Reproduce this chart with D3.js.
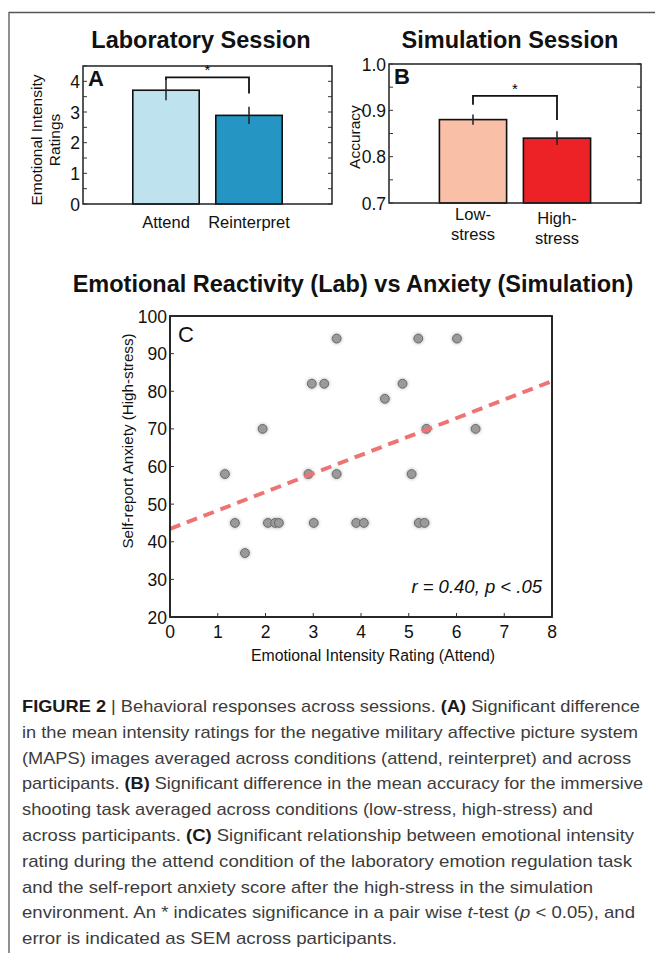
<!DOCTYPE html>
<html>
<head>
<meta charset="utf-8">
<script src="https://cdn.jsdelivr.net/npm/d3@7"></script>
<style>
  html, body { margin: 0; padding: 0; background: #fff; }
  svg { display: block; font-family: "Liberation Sans", Arial, Helvetica, sans-serif; }
</style>
</head>
<body>
<div class="figureBox"></div>
<script>
// ---- data ----
var labCategories = ["Attend", "Reinterpret"];
var labMeans = [3.71, 2.89];
var labSem = [0.33, 0.28];
var labTicks = [0, 1, 2, 3, 4];
var labBracket = [4.13, 4.04, 3.6]; // bar height, left leg end, right leg end

var simCategories = ["Low-stress", "High-stress"];
var simLabels = [["Low-", "stress"], ["High-", "stress"]];
var simMeans = [0.88, 0.84];
var simSem = [0.011, 0.015];
var simTicks = [0.7, 0.8, 0.9, 1.0];
var simBracket = [0.931, 0.912, 0.879];

var attendRating = [1.15, 1.94, 2.90, 2.97, 3.23, 3.49, 3.49, 4.50, 4.87, 5.06, 5.20, 5.37, 6.01, 6.40,
                    1.36, 1.57, 2.05, 2.20, 2.28, 3.01, 3.90, 4.06, 5.21, 5.33];
var anxietyScore = [58, 70, 58, 82, 82, 94, 58, 78, 82, 58, 94, 70, 94, 70,
                    45, 37, 45, 45, 45, 45, 45, 45, 45, 45];
var fitX = [0, 8];
var fitY = [43.4, 82.7];
var scatterXTicks = [0, 1, 2, 3, 4, 5, 6, 7, 8];
var scatterYTicks = [20, 30, 40, 50, 60, 70, 80, 90, 100];

var labColors = ["#bee2ee", "#2595c4"];
var simColors = ["#f9bfa7", "#ed2227"];

// caption lines: [text, style] pieces
var captionLines = [
  [["FIGURE 2", "b"], ["  |  Behavioral responses across sessions. ", ""], ["(A)", "b"], [" Significant difference", ""]],
  [["in the mean intensity ratings for the negative military affective picture system", ""]],
  [["(MAPS) images averaged across conditions (attend, reinterpret) and across", ""]],
  [["participants. ", ""], ["(B)", "b"], [" Significant difference in the mean accuracy for the immersive", ""]],
  [["shooting task averaged across conditions (low-stress, high-stress) and", ""]],
  [["across participants. ", ""], ["(C)", "b"], [" Significant relationship between emotional intensity", ""]],
  [["rating during the attend condition of the laboratory emotion regulation task", ""]],
  [["and the self-report anxiety score after the high-stress in the simulation", ""]],
  [["environment. An * indicates significance in a pair wise ", ""], ["t", "i"], ["-test (", ""], ["p", "i"], [" < 0.05), and", ""]],
  [["error is indicated as SEM across participants.", ""]]
];
var captionEnds = [640, 638, 631, 643, 593, 634, 632, 593, 635, 397];

var W = 655, H = 953;
var svg = d3.select(".figureBox").append("svg")
  .attr("width", W)
  .attr("height", H);

// frame
svg.append("path")
  .attr("d", "M9," + H + "V12.5H" + W)
  .attr("fill", "none")
  .attr("stroke", "#555")
  .attr("stroke-width", 1.3);

/**
* Bar chart with SEM error bars and a significance bracket
**/
var drawBars = function(opt){
  var g = svg.append("g");
  var x = d3.scaleBand().domain(opt.cats).range([opt.left, opt.right])
    .paddingInner(0.2).paddingOuter(0.6);
  var y = d3.scaleLinear().domain(opt.domain).range([opt.bottom, opt.top]);

  g.append("text")
    .attr("x", opt.titleX).attr("y", 48)
    .attr("text-anchor", "middle")
    .attr("font-weight", "bold").attr("font-size", 23.5)
    .attr("fill", "#111")
    .text(opt.title);

  // bars
  g.selectAll(".bar").data(opt.means).enter().append("rect")
    .attr("x", function(d, i){ return x(opt.cats[i]); })
    .attr("y", function(d){ return y(d); })
    .attr("width", x.bandwidth())
    .attr("height", function(d){ return y(opt.domain[0]) - y(d); })
    .attr("fill", function(d, i){ return opt.colors[i]; })
    .attr("stroke", "#111").attr("stroke-width", 1.6);

  // error bars
  g.selectAll(".err").data(opt.means).enter().append("line")
    .attr("x1", function(d, i){ return x(opt.cats[i]) + x.bandwidth() / 2; })
    .attr("x2", function(d, i){ return x(opt.cats[i]) + x.bandwidth() / 2; })
    .attr("y1", function(d, i){ return y(d + opt.sem[i]); })
    .attr("y2", function(d, i){ return y(d - opt.sem[i]); })
    .attr("stroke", "#222").attr("stroke-width", 1.5);

  // significance bracket
  var cx0 = x(opt.cats[0]) + x.bandwidth() / 2, cx1 = x(opt.cats[1]) + x.bandwidth() / 2;
  g.append("path")
    .attr("d", "M" + cx0 + "," + y(opt.bracket[1]) + "V" + y(opt.bracket[0]) +
               "H" + cx1 + "V" + y(opt.bracket[2]))
    .attr("fill", "none").attr("stroke", "#111").attr("stroke-width", 1.8);
  g.append("text")
    .attr("x", (cx0 + cx1) / 2).attr("y", y(opt.bracket[0]) + 4 - 6)
    .attr("text-anchor", "middle").attr("font-size", 15)
    .text("*");

  // axis box
  g.append("rect")
    .attr("x", opt.left).attr("y", opt.top)
    .attr("width", opt.right - opt.left).attr("height", opt.bottom - opt.top)
    .attr("fill", "none").attr("stroke", "#222").attr("stroke-width", 1.5);

  // inward ticks on both sides
  var minor = d3.range(opt.domain[0], opt.domain[1] + 1e-9, opt.minorStep);
  g.selectAll(".tl").data(minor).enter().append("line")
    .attr("x1", opt.left).attr("x2", opt.left + 4)
    .attr("y1", function(d){ return y(d); }).attr("y2", function(d){ return y(d); })
    .attr("stroke", "#333");
  g.selectAll(".tr").data(minor).enter().append("line")
    .attr("x1", opt.right).attr("x2", opt.right - 4)
    .attr("y1", function(d){ return y(d); }).attr("y2", function(d){ return y(d); })
    .attr("stroke", "#333");

  g.selectAll(".tick").data(opt.ticks).enter().append("text")
    .attr("x", opt.left - 3).attr("y", function(d){ return y(d) + 6.5; })
    .attr("text-anchor", "end").attr("font-size", 17.5).attr("fill", "#111")
    .text(function(d){ return opt.fmt(d); });

  // panel letter
  g.append("text")
    .attr("x", opt.left + 5).attr("y", opt.top + 20)
    .attr("font-weight", "bold").attr("font-size", 22).attr("fill", "#111")
    .text(opt.letter);

  // category labels
  opt.labels.forEach(function(lines, i){
    var t = g.append("text")
      .attr("x", x(opt.cats[i]) + x.bandwidth() / 2)
      .attr("y", opt.labelY + i * opt.labelShift)
      .attr("text-anchor", "middle").attr("font-size", 16.5).attr("fill", "#111");
    lines.forEach(function(l, k){
      t.append("tspan").attr("x", x(opt.cats[i]) + x.bandwidth() / 2)
        .attr("dy", k === 0 ? 0 : 20).text(l);
    });
  });

  // y label
  var yl = g.append("text")
    .attr("transform", "translate(" + opt.ylabelX + "," + opt.ylabelY + ") rotate(-90)")
    .attr("text-anchor", "middle").attr("font-size", 15.5).attr("fill", "#111");
  opt.ylabel.forEach(function(l, k){
    yl.append("tspan").attr("x", 0).attr("dy", k === 0 ? 0 : 18).text(l);
  });
};

drawBars({
  cats: labCategories, means: labMeans, sem: labSem, colors: labColors,
  labels: labCategories.map(function(c){ return [c]; }),
  domain: [0, 4.5], ticks: labTicks, minorStep: 0.5, bracket: labBracket,
  left: 83, right: 332, top: 66, bottom: 204,
  title: "Laboratory Session", titleX: 201, letter: "A",
  fmt: d3.format("d"), labelY: 228, labelShift: 0,
  ylabel: ["Emotional Intensity", "Ratings"], ylabelX: 42, ylabelY: 140
});

drawBars({
  cats: simCategories, means: simMeans, sem: simSem, colors: simColors,
  labels: simLabels,
  domain: [0.7, 1.0], ticks: simTicks, minorStep: 0.05, bracket: simBracket,
  left: 389, right: 641, top: 64, bottom: 203,
  title: "Simulation Session", titleX: 510, letter: "B",
  fmt: d3.format(".1f"), labelY: 220, labelShift: 4,
  ylabel: ["Accuracy"], ylabelX: 360, ylabelY: 137
});

/**
* Scatter plot C with the dashed regression line
**/
var scatter = (function(){
  var left = 170, right = 552, top = 316, bottom = 617;
  var g = svg.append("g");
  var x = d3.scaleLinear().domain([0, 8]).range([left, right]);
  var y = d3.scaleLinear().domain([20, 100]).range([bottom, top]);

  g.append("text")
    .attr("x", 353).attr("y", 292)
    .attr("text-anchor", "middle")
    .attr("font-weight", "bold").attr("font-size", 23.5).attr("fill", "#111")
    .text("Emotional Reactivity (Lab) vs Anxiety (Simulation)");

  var defs = svg.append("defs");
  defs.append("filter").attr("id", "halo")
    .attr("x", "-50%").attr("y", "-50%").attr("width", "200%").attr("height", "200%")
    .append("feGaussianBlur").attr("stdDeviation", 1.6);

  var pts = attendRating.map(function(v, i){ return [v, anxietyScore[i]]; });

  g.selectAll(".halo").data(pts).enter().append("circle")
    .attr("cx", function(d){ return x(d[0]); })
    .attr("cy", function(d){ return y(d[1]); })
    .attr("r", 5.5)
    .attr("fill", "#c4c4c4")
    .attr("filter", "url(#halo)");

  g.selectAll(".dot").data(pts).enter().append("circle")
    .attr("cx", function(d){ return x(d[0]); })
    .attr("cy", function(d){ return y(d[1]); })
    .attr("r", 4.4)
    .attr("fill", "#9a9a9a")
    .attr("stroke", "#6a6a6a").attr("stroke-width", 1);

  var line = d3.line().x(function(d){ return x(d[0]); }).y(function(d){ return y(d[1]); });
  g.append("path")
    .datum(fitX.map(function(v, i){ return [v, fitY[i]]; }))
    .attr("d", line)
    .attr("fill", "none")
    .attr("stroke", "#f07373").attr("stroke-width", 4)
    .attr("stroke-dasharray", "11,7");

  g.append("rect")
    .attr("x", left).attr("y", top)
    .attr("width", right - left).attr("height", bottom - top)
    .attr("fill", "none").attr("stroke", "#111").attr("stroke-width", 1.8);

  g.selectAll(".xt").data(scatterXTicks).enter().append("line")
    .attr("x1", function(d){ return x(d); }).attr("x2", function(d){ return x(d); })
    .attr("y1", bottom).attr("y2", bottom - 4)
    .attr("stroke", "#333");
  g.selectAll(".yt").data(scatterYTicks).enter().append("line")
    .attr("x1", left).attr("x2", left + 4)
    .attr("y1", function(d){ return y(d); }).attr("y2", function(d){ return y(d); })
    .attr("stroke", "#333");

  g.selectAll(".xl").data(scatterXTicks).enter().append("text")
    .attr("x", function(d){ return x(d); }).attr("y", bottom + 21)
    .attr("text-anchor", "middle").attr("font-size", 17.5).attr("fill", "#111")
    .text(function(d){ return d; });
  g.selectAll(".yl").data(scatterYTicks).enter().append("text")
    .attr("x", left - 3).attr("y", function(d){ return y(d) + 6.5; })
    .attr("text-anchor", "end").attr("font-size", 17.5).attr("fill", "#111")
    .text(function(d){ return d; });

  g.append("text")
    .attr("x", left + 8).attr("y", top + 26)
    .attr("font-size", 22).attr("fill", "#111")
    .text("C");

  g.append("text")
    .attr("x", 542).attr("y", 593)
    .attr("text-anchor", "end").attr("font-size", 18.5).attr("font-style", "italic")
    .attr("fill", "#111")
    .text("r = 0.40, p < .05");

  g.append("text")
    .attr("x", 373).attr("y", 661)
    .attr("text-anchor", "middle").attr("font-size", 15.8).attr("fill", "#111")
    .text("Emotional Intensity Rating (Attend)");

  g.append("text")
    .attr("transform", "translate(133,441) rotate(-90)")
    .attr("text-anchor", "middle").attr("font-size", 15.2).attr("fill", "#111")
    .text("Self-report Anxiety (High-stress)");
})();

// caption
var cap = svg.append("g").attr("fill", "#3c3c3c").attr("font-size", 17);
captionLines.forEach(function(pieces, i){
  var t = cap.append("text")
    .attr("x", 22).attr("y", 712 + i * 25.8)
    .attr("textLength", captionEnds[i] - 22)
    .attr("lengthAdjust", "spacingAndGlyphs");
  pieces.forEach(function(p){
    var s = t.append("tspan").text(p[0]);
    if (p[1] === "b") s.attr("font-weight", "bold").attr("fill", "#1a1a1a");
    if (p[1] === "i") s.attr("font-style", "italic");
  });
});
</script>
</body>
</html>
